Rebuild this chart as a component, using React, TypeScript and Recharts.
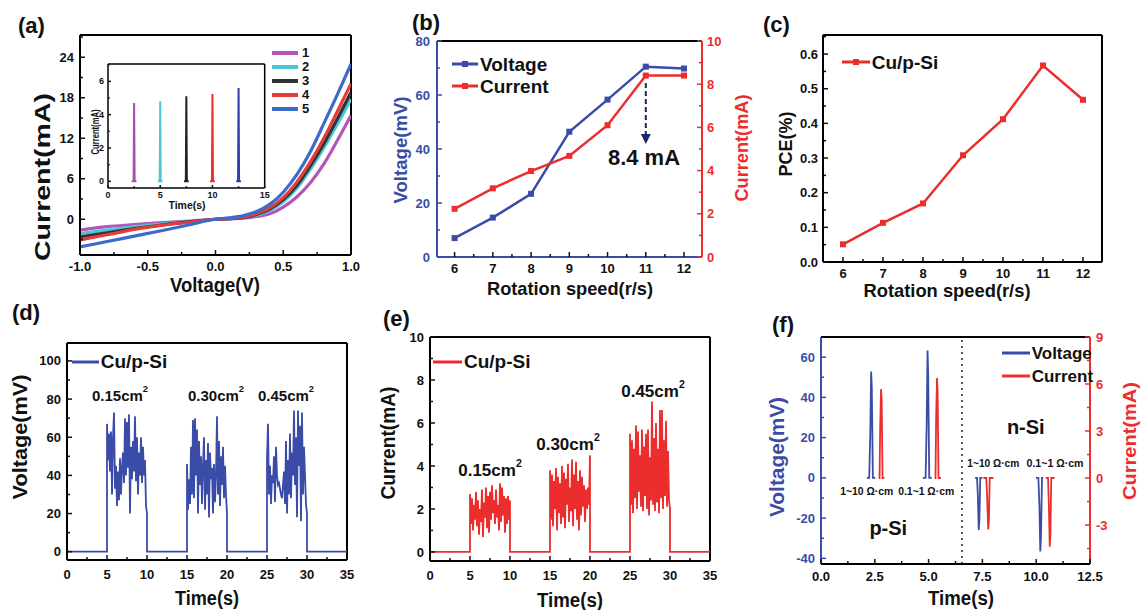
import React from "react";
import { LineChart, Line, XAxis, YAxis, ReferenceLine, ReferenceDot, Legend } from "recharts";

const FONT = '"Liberation Sans", Arial, Helvetica, sans-serif';
const NAVY = "#3a4ca8";
const RED = "#ec2d2d";
const INK = "#111111";

// (a) I-V curves, voltage in V, current in mA
const ivVoltage = [-1, -0.8, -0.6, -0.4, -0.2, 0, 0.1, 0.2, 0.3, 0.4, 0.5, 0.6, 0.7, 0.8, 0.9, 1.0];
const ivCurrent1 = [-1.6, -1.1, -0.8, -0.5, -0.28, 0, 0.05, 0.15, 0.4, 0.8, 1.8, 3.3, 5.4, 8.2, 11.7, 15.4];
const ivCurrent2 = [-2.1, -1.6, -1.1, -0.7, -0.35, 0, 0.08, 0.22, 0.6, 1.3, 2.6, 4.6, 7.4, 10.6, 14.1, 17.8];
const ivCurrent3 = [-2.6, -2.0, -1.4, -0.85, -0.4, 0, 0.1, 0.25, 0.7, 1.5, 2.9, 5.0, 7.9, 11.2, 14.9, 18.8];
const ivCurrent4 = [-3.05, -2.3, -1.5, -0.9, -0.45, 0, 0.1, 0.3, 0.8, 1.7, 3.2, 5.5, 8.5, 12.0, 16.0, 20.1];
const ivCurrent5 = [-4.1, -3.3, -2.5, -1.7, -0.85, 0, 0.2, 0.5, 1.1, 2.2, 4.0, 6.6, 10.0, 14.2, 18.5, 23.0];
const ivNames = ["1", "2", "3", "4", "5"];
const ivColors = ["#b455b9", "#4bc6d8", "#333333", "#e53b3b", "#3c6ccb"];
const insetColors = ["#a84cb0", "#4fc6d6", "#222222", "#e83030", "#2d3fa8"];

// (a) inset: current pulses
const insetSpikes = [
  { t: [2.27, 2.45, 2.5, 2.55, 2.73], y: [0, 0, 4.7, 0, 0] },
  { t: [4.77, 4.95, 5.0, 5.05, 5.23], y: [0, 0, 4.8, 0, 0] },
  { t: [7.27, 7.45, 7.5, 7.55, 7.73], y: [0, 0, 5.1, 0, 0] },
  { t: [9.77, 9.95, 10.0, 10.05, 10.23], y: [0, 0, 5.24, 0, 0] },
  { t: [12.27, 12.45, 12.5, 12.55, 12.73], y: [0, 0, 5.6, 0, 0] },
];

// (b), (c)
const speed = [6, 7, 8, 9, 10, 11, 12];
const bVoltage = [7.0, 14.6, 23.4, 46.4, 58.3, 70.5, 69.8];
const bCurrent = [2.23, 3.18, 3.98, 4.68, 6.1, 8.4, 8.4];
const pce = [0.051, 0.113, 0.169, 0.308, 0.412, 0.567, 0.468];

// (d), (e): samples every 0.125 s inside each pressing window
const windowStarts = [5, 15, 25];
const sampleStep = 0.125;
const dVolt1 = [67, 48, 62, 42, 63, 30, 60, 73, 33, 45, 24, 42, 27, 49, 30, 44, 52, 36, 70, 40, 68, 44, 72, 20, 55, 38, 58, 42, 71, 37, 60, 30, 52, 40, 60, 36, 55, 40, 48, 24, 20];
const dVolt2 = [46, 22, 38, 25, 55, 30, 69, 28, 70, 40, 64, 20, 58, 35, 50, 25, 45, 60, 22, 48, 30, 57, 18, 52, 38, 44, 20, 46, 26, 40, 71, 30, 58, 24, 50, 35, 55, 28, 45, 30, 20];
const dVolt3 = [49, 67, 30, 45, 25, 40, 36, 50, 26, 55, 40, 35, 36, 33, 30, 28, 35, 42, 25, 58, 20, 48, 30, 62, 28, 52, 40, 74, 35, 60, 18, 74, 45, 66, 16, 73, 30, 55, 40, 25, 20];
const eCurr1 = [2.7, 1.3, 2.5, 1.0, 2.2, 1.5, 2.8, 1.2, 2.4, 0.8, 2.0, 1.4, 2.9, 0.7, 2.3, 1.6, 3.0, 1.1, 2.6, 0.9, 2.8, 1.5, 3.1, 1.8, 2.4, 1.3, 2.9, 1.6, 2.2, 1.0, 3.2, 1.4, 3.0, 1.7, 2.6, 0.9, 2.5, 1.3, 2.6, 1.5, 2.4];
const eCurr2 = [3.8, 1.5, 3.6, 1.2, 3.3, 2.0, 3.9, 1.0, 3.5, 1.8, 3.2, 1.3, 4.0, 1.6, 3.7, 1.1, 3.4, 2.2, 4.1, 1.4, 3.0, 1.9, 4.3, 1.2, 3.6, 2.0, 4.2, 1.5, 3.3, 1.0, 3.8, 1.7, 3.5, 2.1, 3.1, 1.4, 2.9, 2.0, 3.0, 2.2, 4.5];
const eCurr3 = [5.5, 2.2, 5.2, 1.8, 4.8, 2.5, 5.9, 2.0, 5.6, 2.8, 4.5, 2.1, 5.7, 1.9, 4.9, 2.6, 5.5, 2.0, 5.7, 1.7, 4.4, 2.4, 7.0, 2.2, 5.3, 1.9, 6.0, 2.3, 4.8, 1.8, 6.6, 2.5, 6.6, 2.0, 5.2, 2.6, 6.1, 2.1, 4.7, 2.4, 2.0];

// (f) single pulses, voltage (mV) and current (mA)
const fVoltSpikes = [
  { t: [2.13, 2.24, 2.29, 2.33, 2.36, 2.41, 2.52], y: [0, 0, 22, 52.9, 45, 0, 0] },
  { t: [4.73, 4.86, 4.91, 4.95, 4.98, 5.03, 5.15], y: [0, 0, 26, 63.3, 52, 0, 0] },
  { t: [7.16, 7.25, 7.29, 7.33, 7.36, 7.4, 7.5], y: [0, 0, -9, -25.9, -21, 0, 0] },
  { t: [9.99, 10.1, 10.15, 10.19, 10.22, 10.27, 10.33], y: [0, 0, -14, -36.6, -30, 0, 0] },
];
const fCurrSpikes = [
  { t: [2.68, 2.72, 2.75, 2.79, 2.82, 2.86, 2.94], y: [0, 0, 3.2, 5.67, 4.9, 0, 0] },
  { t: [5.28, 5.32, 5.35, 5.39, 5.42, 5.46, 5.57], y: [0, 0, 3.8, 6.38, 5.4, 0, 0] },
  { t: [7.55, 7.68, 7.72, 7.77, 7.8, 7.84, 8.01], y: [0, 0, -1.2, -3.28, -2.8, 0, 0] },
  { t: [10.45, 10.55, 10.59, 10.63, 10.66, 10.7, 10.85], y: [0, 0, -1.8, -4.39, -3.6, 0, 0] },
];
const fDivider = 6.55;

// tick values (major ones get labels)
const aXTicks = [-1, -0.75, -0.5, -0.25, 0, 0.25, 0.5, 0.75, 1];
const aXMajor = [-1, -0.5, 0, 0.5, 1];
const aYTicks = [-3, 0, 3, 6, 9, 12, 15, 18, 21, 24, 27];
const aYMajor = [0, 6, 12, 18, 24];
const inXTicks = [0, 2.5, 5, 7.5, 10, 12.5, 15];
const inXMajor = [0, 5, 10, 15];
const inYTicks = [0, 1, 2, 3, 4, 5, 6, 7];
const inYMajor = [0, 2, 4, 6];
const speedTicks = [6, 6.5, 7, 7.5, 8, 8.5, 9, 9.5, 10, 10.5, 11, 11.5, 12];
const bVTicks = [0, 10, 20, 30, 40, 50, 60, 70, 80];
const bVMajor = [0, 20, 40, 60, 80];
const bITicks = [0, 1, 2, 3, 4, 5, 6, 7, 8, 9, 10];
const bIMajor = [0, 2, 4, 6, 8, 10];
const cYTicks = [0, 0.05, 0.1, 0.15, 0.2, 0.25, 0.3, 0.35, 0.4, 0.45, 0.5, 0.55, 0.6, 0.65];
const cYMajor = [0, 0.1, 0.2, 0.3, 0.4, 0.5, 0.6];
const timeTicks = [0, 2.5, 5, 7.5, 10, 12.5, 15, 17.5, 20, 22.5, 25, 27.5, 30, 32.5, 35];
const timeMajor = [0, 5, 10, 15, 20, 25, 30, 35];
const dYTicks = [0, 10, 20, 30, 40, 50, 60, 70, 80, 90, 100];
const dYMajor = [0, 20, 40, 60, 80, 100];
const eYTicks = [0, 1, 2, 3, 4, 5, 6, 7, 8, 9, 10];
const eYMajor = [0, 2, 4, 6, 8, 10];
const fXTicks = [0, 1.25, 2.5, 3.75, 5, 6.25, 7.5, 8.75, 10, 11.25, 12.5];
const fXMajor = [0, 2.5, 5, 7.5, 10, 12.5];
const fVTicks = [-40, -30, -20, -10, 0, 10, 20, 30, 40, 50, 60];
const fVMajor = [-40, -20, 0, 20, 40, 60];
const fITicks = [-4.5, -3, -1.5, 0, 1.5, 3, 4.5, 6, 7.5, 9];
const fIMajor = [-3, 0, 3, 6, 9];

const ivRows = ivVoltage.map((v, k) => ({
  x: v, c1: ivCurrent1[k], c2: ivCurrent2[k], c3: ivCurrent3[k], c4: ivCurrent4[k], c5: ivCurrent5[k],
}));
const speedRows = speed.map((s, k) => ({ x: s, v: bVoltage[k], i: bCurrent[k], p: pce[k] }));
const spikeRows = (s: { t: number[]; y: number[] }) => s.t.map((t, k) => ({ x: t, y: s.y[k] }));

function trace(windows: number[][]) {
  const pts = [{ x: 0, y: 0 }];
  windows.forEach((vals, w) => {
    const s = windowStarts[w];
    pts.push({ x: s, y: 0 });
    vals.forEach((v, i) => pts.push({ x: s + i * sampleStep, y: v }));
    pts.push({ x: s + (vals.length - 1) * sampleStep, y: 0 });
  });
  pts.push({ x: 35, y: 0 });
  return pts;
}
const dRows = trace([dVolt1, dVolt2, dVolt3]);
const eRows = trace([eCurr1, eCurr2, eCurr3]);

const fmt0 = (v: number) => String(v);
const fmt1 = (v: number) => v.toFixed(1);

function makeTick(side: "bottom" | "left" | "right", majors: number[], fmt: (v: number) => string,
  color: string, fontSize = 13, gap = 6, len = 5) {
  return (props: any) => {
    const { x, y, payload } = props;
    const v = Number(payload.value);
    const major = majors.some((m) => Math.abs(m - v) < 1e-6);
    const l = major ? len : len * 0.6;
    const txt = { fill: color, fontSize, fontWeight: 700, fontFamily: FONT };
    if (side === "bottom") {
      return (
        <g>
          <line x1={x} y1={y} x2={x} y2={y - l} stroke={color} strokeWidth={1.5} />
          {major && <text x={x} y={y + gap} dy="0.35em" textAnchor="middle" {...txt}>{fmt(v)}</text>}
        </g>
      );
    }
    const dir = side === "left" ? 1 : -1;
    return (
      <g>
        <line x1={x} y1={y} x2={x + dir * l} y2={y} stroke={color} strokeWidth={1.5} />
        {major && (
          <text x={x - dir * gap} y={y} dy="0.35em" textAnchor={side === "left" ? "end" : "start"} {...txt}>{fmt(v)}</text>
        )}
      </g>
    );
  };
}

type Box = { x0: number; y0: number; x1: number; y1: number };
function frame(b: Box, right = false, axisW = 50, axisH = 40, padT = 10, padR = 10) {
  return {
    style: { position: "absolute" as const, left: b.x0 - axisW, top: b.y0 - padT },
    width: axisW + (b.x1 - b.x0) + (right ? axisW : padR),
    height: padT + (b.y1 - b.y0) + axisH,
    margin: { top: padT, right: right ? 0 : padR, bottom: 0, left: 0 },
    left: b.x0 - axisW,
    top: b.y0 - padT,
  };
}

type Item = { label: string; color: string; marker?: boolean };
function legendBox(items: Item[], fontSize: number, rowH: number, lineW: number, lineWidth = 3, gap = 2) {
  return () => (
    <div style={{ fontFamily: FONT, fontWeight: 700, fontSize, color: INK, lineHeight: 1 }}>
      {items.map((it) => (
        <div key={it.label} style={{ display: "flex", alignItems: "center", height: rowH }}>
          <svg width={lineW} height={12} style={{ display: "block" }}>
            <line x1={0} y1={6} x2={lineW} y2={6} stroke={it.color} strokeWidth={lineWidth} />
            {it.marker && <rect x={lineW / 2 - 3} y={3} width={6} height={6} fill={it.color} />}
          </svg>
          <span style={{ marginLeft: gap }}>{it.label}</span>
        </div>
      ))}
    </div>
  );
}

const squareDot = (color: string) => (p: any) => (
  <rect key={`sq-${p.index}`} x={p.cx - 3} y={p.cy - 3} width={6} height={6} fill={color} />
);

const arrowHead = (p: any) => (
  <path d={`M${p.cx - 5},${p.cy - 10} L${p.cx + 5},${p.cy - 10} L${p.cx},${p.cy} Z`} fill="#1c2566" />
);

function T(props: { x: number; y: number; size: number; children: React.ReactNode; color?: string;
  len?: number; rotate?: boolean; anchor?: "start" | "middle" | "end" }) {
  const { x, y, size, children, color = INK, len, rotate, anchor = "middle" } = props;
  const common: any = {
    fontFamily: FONT, fontWeight: 700, fontSize: size, fill: color, textAnchor: anchor, dominantBaseline: "central",
  };
  if (len) { common.textLength = len; common.lengthAdjust = "spacingAndGlyphs"; }
  return rotate ? (
    <text transform={`translate(${x} ${y}) rotate(-90)`} {...common}>{children}</text>
  ) : (
    <text x={x} y={y} {...common}>{children}</text>
  );
}

const A: Box = { x0: 80, y0: 35, x1: 351, y1: 255 };
const AI: Box = { x0: 108.3, y0: 64.3, x1: 265, y1: 188.3 };
const B: Box = { x0: 437, y0: 41, x1: 702, y1: 257 };
const C: Box = { x0: 823, y0: 35, x1: 1102, y1: 262 };
const D: Box = { x0: 67, y0: 343, x1: 347, y1: 560 };
const E: Box = { x0: 430, y0: 337, x1: 710, y1: 561 };
const F: Box = { x0: 821, y0: 337, x1: 1090, y1: 564 };

const edge = { stroke: "#000", strokeWidth: 2 };

function PanelA() {
  const f = frame(A);
  return (
    <div style={f.style}>
      <LineChart width={f.width} height={f.height} margin={f.margin} data={ivRows}>
        <XAxis type="number" dataKey="x" domain={[-1, 1]} ticks={aXTicks} interval={0} allowDataOverflow
          height={40} tickSize={0} tickMargin={0} tickLine={false} axisLine={edge}
          tick={makeTick("bottom", aXMajor, fmt1, INK, 13, 11)} />
        <YAxis type="number" domain={[-5.3, 27.3]} ticks={aYTicks} interval={0} allowDataOverflow
          width={50} tickSize={0} tickMargin={0} tickLine={false} axisLine={edge}
          tick={makeTick("left", aYMajor, fmt0, INK, 13, 6)} />
        <ReferenceLine y={27.3} stroke="#000" strokeWidth={2} />
        <ReferenceLine x={1} stroke="#000" strokeWidth={2} />
        {["c1", "c2", "c3", "c4", "c5"].map((k, i) => (
          <Line key={k} dataKey={k} name={ivNames[i]} type="monotone" stroke={ivColors[i]} strokeWidth={3.2}
            dot={false} activeDot={false} isAnimationActive={false} />
        ))}
        <Legend layout="vertical" align="center" verticalAlign="middle"
          wrapperStyle={{ left: 272 - f.left, top: 45.7 - f.top, width: "auto" }}
          content={legendBox(ivNames.map((n, i) => ({ label: n, color: ivColors[i] })), 13, 14, 26, 4, 4)} />
      </LineChart>
    </div>
  );
}

function PanelAInset() {
  const f = frame(AI, false, 30, 20, 5, 5);
  const thin = { stroke: "#000", strokeWidth: 1.5 };
  return (
    <div style={f.style}>
      <LineChart width={f.width} height={f.height} margin={f.margin}>
        <XAxis type="number" dataKey="x" domain={[0, 15]} ticks={inXTicks} interval={0} allowDataOverflow
          height={20} tickSize={0} tickMargin={0} tickLine={false} axisLine={thin}
          tick={makeTick("bottom", inXMajor, fmt0, INK, 9, 7, 3)} />
        <YAxis type="number" domain={[-0.4, 7.04]} ticks={inYTicks} interval={0} allowDataOverflow
          width={30} tickSize={0} tickMargin={0} tickLine={false} axisLine={thin}
          tick={makeTick("left", inYMajor, fmt0, INK, 9, 4, 3)} />
        <ReferenceLine y={7.04} stroke="#000" strokeWidth={1.5} />
        <ReferenceLine x={15} stroke="#000" strokeWidth={1.5} />
        {insetSpikes.map((s, i) => (
          <Line key={i} data={spikeRows(s)} dataKey="y" type="linear" stroke={insetColors[i]} strokeWidth={2}
            dot={false} activeDot={false} isAnimationActive={false} />
        ))}
      </LineChart>
    </div>
  );
}

function PanelB() {
  const f = frame(B, true);
  return (
    <div style={f.style}>
      <LineChart width={f.width} height={f.height} margin={f.margin} data={speedRows}>
        <XAxis type="number" dataKey="x" domain={[5.54, 12.47]} ticks={speedTicks} interval={0} allowDataOverflow
          height={40} tickSize={0} tickMargin={0} tickLine={false} axisLine={{ stroke: NAVY, strokeWidth: 2 }}
          tick={makeTick("bottom", speed, fmt0, INK, 13, 11)} />
        <YAxis yAxisId="v" type="number" domain={[0, 80]} ticks={bVTicks} interval={0} allowDataOverflow
          width={50} tickSize={0} tickMargin={0} tickLine={false} axisLine={{ stroke: NAVY, strokeWidth: 2 }}
          tick={makeTick("left", bVMajor, fmt0, NAVY, 13, 7)} />
        <YAxis yAxisId="i" orientation="right" type="number" domain={[0, 10]} ticks={bITicks} interval={0}
          allowDataOverflow width={50} tickSize={0} tickMargin={0} tickLine={false}
          axisLine={{ stroke: RED, strokeWidth: 2 }} tick={makeTick("right", bIMajor, fmt0, RED, 13, 5)} />
        <ReferenceLine yAxisId="v" y={80} stroke="#000" strokeWidth={2} />
        <Line yAxisId="v" dataKey="v" name="Voltage" type="linear" stroke={NAVY} strokeWidth={2.5}
          dot={squareDot(NAVY)} activeDot={false} isAnimationActive={false} />
        <Line yAxisId="i" dataKey="i" name="Current" type="linear" stroke={RED} strokeWidth={2.5}
          dot={squareDot(RED)} activeDot={false} isAnimationActive={false} />
        <ReferenceLine yAxisId="i" segment={[{ x: 11, y: 8.05 }, { x: 11, y: 5.7 }]} stroke="#1c2566"
          strokeWidth={2} strokeDasharray="5 3" />
        <ReferenceDot yAxisId="i" x={11} y={5.23} r={5} shape={arrowHead} />
        <Legend layout="vertical" align="center" verticalAlign="middle"
          wrapperStyle={{ left: 452 - f.left, top: 53 - f.top, width: "auto" }}
          content={legendBox([
            { label: "Voltage", color: NAVY, marker: true },
            { label: "Current", color: RED, marker: true },
          ], 19, 22, 26, 3)} />
      </LineChart>
    </div>
  );
}

function PanelC() {
  const f = frame(C);
  return (
    <div style={f.style}>
      <LineChart width={f.width} height={f.height} margin={f.margin} data={speedRows}>
        <XAxis type="number" dataKey="x" domain={[5.5, 12.475]} ticks={speedTicks} interval={0} allowDataOverflow
          height={40} tickSize={0} tickMargin={0} tickLine={false} axisLine={edge}
          tick={makeTick("bottom", speed, fmt0, INK, 13, 11)} />
        <YAxis type="number" domain={[0, 0.655]} ticks={cYTicks} interval={0} allowDataOverflow
          width={50} tickSize={0} tickMargin={0} tickLine={false} axisLine={edge}
          tick={makeTick("left", cYMajor, fmt1, INK, 13, 5)} />
        <ReferenceLine y={0.655} stroke="#000" strokeWidth={2} />
        <ReferenceLine x={12.475} stroke="#000" strokeWidth={2} />
        <Line dataKey="p" name="Cu/p-Si" type="linear" stroke={RED} strokeWidth={2.5}
          dot={squareDot(RED)} activeDot={false} isAnimationActive={false} />
        <Legend layout="vertical" align="center" verticalAlign="middle"
          wrapperStyle={{ left: 841.7 - f.left, top: 51.3 - f.top, width: "auto" }}
          content={legendBox([{ label: "Cu/p-Si", color: RED, marker: true }], 19, 22, 28, 3)} />
      </LineChart>
    </div>
  );
}

function PanelD() {
  const f = frame(D);
  return (
    <div style={f.style}>
      <LineChart width={f.width} height={f.height} margin={f.margin} data={dRows}>
        <XAxis type="number" dataKey="x" domain={[0, 35]} ticks={timeTicks} interval={0} allowDataOverflow
          height={40} tickSize={0} tickMargin={0} tickLine={false} axisLine={edge}
          tick={makeTick("bottom", timeMajor, fmt0, INK, 13, 14)} />
        <YAxis type="number" domain={[-4.35, 109.4]} ticks={dYTicks} interval={0} allowDataOverflow
          width={50} tickSize={0} tickMargin={0} tickLine={false} axisLine={edge}
          tick={makeTick("left", dYMajor, fmt0, INK, 13, 6)} />
        <ReferenceLine y={109.4} stroke="#000" strokeWidth={2} />
        <ReferenceLine x={35} stroke="#000" strokeWidth={2} />
        <Line dataKey="y" name="Cu/p-Si" type="linear" stroke={NAVY} strokeWidth={1.8}
          dot={false} activeDot={false} isAnimationActive={false} />
        <Legend layout="vertical" align="center" verticalAlign="middle"
          wrapperStyle={{ left: 71.7 - f.left, top: 350.7 - f.top, width: "auto" }}
          content={legendBox([{ label: "Cu/p-Si", color: NAVY }], 19, 22, 27, 3)} />
      </LineChart>
    </div>
  );
}

function PanelE() {
  const f = frame(E);
  return (
    <div style={f.style}>
      <LineChart width={f.width} height={f.height} margin={f.margin} data={eRows}>
        <XAxis type="number" dataKey="x" domain={[0, 35]} ticks={timeTicks} interval={0} allowDataOverflow
          height={40} tickSize={0} tickMargin={0} tickLine={false} axisLine={edge}
          tick={makeTick("bottom", timeMajor, fmt0, INK, 13, 14)} />
        <YAxis type="number" domain={[-0.42, 10]} ticks={eYTicks} interval={0} allowDataOverflow
          width={50} tickSize={0} tickMargin={0} tickLine={false} axisLine={edge}
          tick={makeTick("left", eYMajor, fmt0, INK, 13, 6)} />
        <ReferenceLine y={10} stroke="#000" strokeWidth={2} />
        <ReferenceLine x={35} stroke="#000" strokeWidth={2} />
        <Line dataKey="y" name="Cu/p-Si" type="linear" stroke={RED} strokeWidth={1.8}
          dot={false} activeDot={false} isAnimationActive={false} />
        <Legend layout="vertical" align="center" verticalAlign="middle"
          wrapperStyle={{ left: 433 - f.left, top: 350.7 - f.top, width: "auto" }}
          content={legendBox([{ label: "Cu/p-Si", color: RED }], 19, 22, 29, 3)} />
      </LineChart>
    </div>
  );
}

function PanelF() {
  const f = frame(F, true);
  return (
    <div style={f.style}>
      <LineChart width={f.width} height={f.height} margin={f.margin}>
        <XAxis type="number" dataKey="x" domain={[0, 12.5]} ticks={fXTicks} interval={0} allowDataOverflow
          height={40} tickSize={0} tickMargin={0} tickLine={false} axisLine={edge}
          tick={makeTick("bottom", fXMajor, fmt1, INK, 13, 12)} />
        <YAxis yAxisId="v" type="number" domain={[-42.8, 70]} ticks={fVTicks} interval={0} allowDataOverflow
          width={50} tickSize={0} tickMargin={0} tickLine={false} axisLine={{ stroke: NAVY, strokeWidth: 2 }}
          tick={makeTick("left", fVMajor, fmt0, NAVY, 13, 6)} />
        <YAxis yAxisId="i" orientation="right" type="number" domain={[-5.49, 9]} ticks={fITicks} interval={0}
          allowDataOverflow width={50} tickSize={0} tickMargin={0} tickLine={false}
          axisLine={{ stroke: RED, strokeWidth: 2 }} tick={makeTick("right", fIMajor, fmt0, RED, 13, 6)} />
        <ReferenceLine yAxisId="v" y={70} stroke="#000" strokeWidth={2} />
        <ReferenceLine yAxisId="v" x={fDivider} stroke="#222" strokeWidth={1.5} strokeDasharray="2 4" />
        {fVoltSpikes.map((s, i) => (
          <Line key={`v${i}`} yAxisId="v" data={spikeRows(s)} dataKey="y" name="Voltage" type="linear" stroke={NAVY}
            strokeWidth={1.8} dot={false} activeDot={false} isAnimationActive={false} />
        ))}
        {fCurrSpikes.map((s, i) => (
          <Line key={`i${i}`} yAxisId="i" data={spikeRows(s)} dataKey="y" name="Current" type="linear" stroke={RED}
            strokeWidth={1.8} dot={false} activeDot={false} isAnimationActive={false} />
        ))}
        <Legend layout="vertical" align="center" verticalAlign="middle"
          wrapperStyle={{ left: 1001.7 - f.left, top: 342 - f.top, width: "auto" }}
          content={legendBox([
            { label: "Voltage", color: NAVY },
            { label: "Current", color: RED },
          ], 17, 22.7, 28, 3)} />
      </LineChart>
    </div>
  );
}

function Texts() {
  const sup = (s: string, size: number) => (
    <>
      {s}
      <tspan dy={-size * 0.4} fontSize={size * 0.62}>2</tspan>
    </>
  );
  return (
    <svg width={1142} height={610} style={{ position: "absolute", left: 0, top: 0, pointerEvents: "none" }}>
      <T x={18} y={25} size={22} anchor="start">(a)</T>
      <T x={412} y={22} size={22} anchor="start">(b)</T>
      <T x={763} y={24} size={22} anchor="start">(c)</T>
      <T x={12} y={312} size={22} anchor="start">(d)</T>
      <T x={383} y={318} size={22} anchor="start">(e)</T>
      <T x={772} y={324} size={22} anchor="start">(f)</T>

      <T x={42} y={177} size={22} len={168} rotate>Current(mA)</T>
      <T x={215} y={285} size={20} len={90}>Voltage(V)</T>
      <T x={95} y={132} size={10} len={45} rotate>Current(mA)</T>
      <T x={187} y={205} size={11} len={37}>Time(s)</T>

      <T x={400} y={150} size={19} len={107} rotate color={NAVY}>Voltage(mV)</T>
      <T x={741.5} y={148} size={19} len={107} rotate color={RED}>Current(mA)</T>
      <T x={570} y={288} size={19} len={166}>Rotation speed(r/s)</T>
      <T x={644} y={157} size={22} len={72}>8.4 mA</T>

      <T x={785} y={144} size={19} len={65} rotate>PCE(%)</T>
      <T x={947} y={290} size={19} len={167}>Rotation speed(r/s)</T>

      <T x={20} y={437} size={20} len={125} rotate>Voltage(mV)</T>
      <T x={207} y={598} size={20} len={64}>Time(s)</T>
      <T x={120} y={395} size={15}>{sup("0.15cm", 15)}</T>
      <T x={216} y={395} size={15}>{sup("0.30cm", 15)}</T>
      <T x={286} y={395} size={15}>{sup("0.45cm", 15)}</T>

      <T x={388} y={443} size={20} len={113} rotate>Current(mA)</T>
      <T x={570} y={600} size={20} len={66}>Time(s)</T>
      <T x={490} y={470} size={17}>{sup("0.15cm", 17)}</T>
      <T x={568} y={444} size={17}>{sup("0.30cm", 17)}</T>
      <T x={653} y={391} size={17}>{sup("0.45cm", 17)}</T>

      <T x={777} y={457} size={20} len={120} rotate color={NAVY}>Voltage(mV)</T>
      <T x={1130} y={441} size={18} len={118} rotate color={RED}>Current(mA)</T>
      <T x={961} y={598} size={20} len={66}>Time(s)</T>
      <T x={866.7} y={491} size={11} len={53}>1~10 Ω·cm</T>
      <T x={926.2} y={491} size={11} len={56}>0.1~1 Ω·cm</T>
      <T x={993.3} y={463} size={11} len={52}>1~10 Ω·cm</T>
      <T x={1055} y={463} size={11} len={57}>0.1~1 Ω·cm</T>
      <T x={888.3} y={528} size={20}>p-Si</T>
      <T x={1025.8} y={427} size={20}>n-Si</T>
    </svg>
  );
}

export default function App() {
  return (
    <div style={{ position: "absolute", left: 0, top: 0, width: 1142, height: 610, overflow: "hidden", background: "#fff" }}>
      <PanelA />
      <PanelAInset />
      <PanelB />
      <PanelC />
      <PanelD />
      <PanelE />
      <PanelF />
      <Texts />
    </div>
  );
}
